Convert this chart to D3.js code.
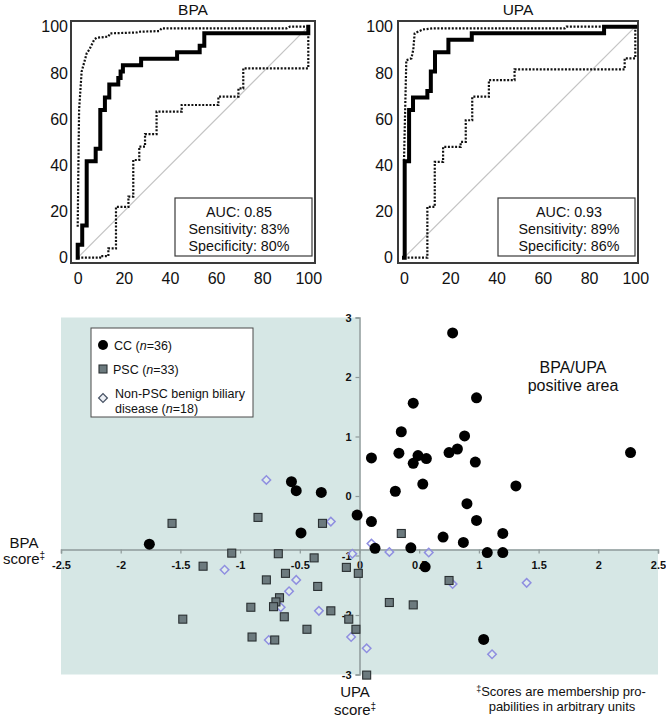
<!DOCTYPE html>
<html><head><meta charset="utf-8">
<script src="https://cdn.jsdelivr.net/npm/d3@7"></script>
<style>
body{margin:0;background:#fff;}
svg{display:block;font-family:"Liberation Sans",Arial,Helvetica,sans-serif;}
</style></head><body>
<svg id="chart" width="666" height="723"></svg>
<script>
// ---------- ROC data ----------
const rocTicks = [0, 20, 40, 60, 80, 100];
const rocTitles = ["BPA", "UPA"];
// main ROC curves (step points: fpr where rise happens, tpr after rise)
const bpaFpr = [0, 0, 1.96, 3.9, 7.8, 9.8, 11.8, 13.7, 17.6, 18.6, 19.6, 27.5, 43.1, 52.9, 54.9, 100];
const bpaTpr = [0, 5.6, 13.9, 41.7, 47.2, 63.9, 69.4, 75, 77.8, 80.6, 83.3, 86.1, 88.9, 91.7, 97.2, 100];
const bpaUpFpr = [0, 0.3, 0.6, 1.7, 3.9, 5.1, 7.2, 8.2, 13.3, 14, 25.6, 26.3, 35.4, 36.4, 90.6, 92, 100];
const bpaUpTpr = [13.4, 39.4, 63.9, 80.5, 88.5, 90.2, 94.5, 95.2, 95.7, 97.1, 97.5, 97.8, 98.1, 99.3, 99.3, 100, 100];
const bpaLoFpr = [0, 9.7, 13.3, 16.6, 22, 24.1, 26.7, 29.2, 34.2, 45.1, 61, 69.7, 71.8, 100];
const bpaLoTpr = [0, 0.7, 4, 22, 26.4, 42.3, 48.1, 53.5, 63.2, 66.1, 69.7, 73.3, 82, 98.5];
const upaFpr = [0, 0.3, 2.2, 3.9, 10.1, 11.6, 13.4, 19.2, 29.3, 86.5, 100];
const upaTpr = [0, 41.7, 63.9, 69.4, 72.2, 80.6, 88.9, 94.4, 97.2, 100, 100];
const upaUpFpr = [0, 0.5, 1, 3.2, 4, 4.6, 6, 8.2, 12.5, 69.5, 70.2, 100];
const upaUpTpr = [42, 64, 85.5, 86.3, 90, 97.1, 97.8, 98.8, 99.3, 99.3, 100, 100];
const upaLoFpr = [0, 10.1, 13.3, 16.9, 24.5, 26.7, 29.5, 36.7, 47.8, 95.4, 100];
const upaLoTpr = [0, 22, 41.5, 48, 50.1, 59.5, 69.7, 76.9, 81.5, 86.3, 100];
const bpaStats = ["AUC: 0.85", "Sensitivity: 83%", "Specificity: 80%"];
const upaStats = ["AUC: 0.93", "Sensitivity: 89%", "Specificity: 86%"];

// ---------- Scatter data (x = BPA score, y = UPA score) ----------
const xTicks = [-2.5, -2, -1.5, -1, -0.5, 0, 0.5, 1, 1.5, 2, 2.5];
const yTicks = [-3, -2, -1, 0, 1, 2, 3];
const ccBpa = [0.78,0.98,0.45,0.35,0.88,0.10,0.33,0.49,0.45,0.56,0.75,0.82,0.97,2.27,0.30,0.53,1.31,0.90,-0.02,0.10,0.98,1.20,0.70,0.87,0.13,0.43,1.07,1.20,0.55,1.04,-0.57,-0.53,-0.32,-0.49,-1.76];
const ccUpa = [2.74,1.65,1.56,1.08,1.01,0.64,0.72,0.68,0.55,0.63,0.73,0.79,0.57,0.73,0.08,0.20,0.17,-0.13,-0.32,-0.43,-0.41,-0.63,-0.69,-0.78,-0.88,-0.87,-0.95,-0.95,-1.19,-2.41,0.24,0.09,0.06,-0.62,-0.81];
const pscBpa = [-0.85,-0.31,-1.07,-0.68,-0.38,-1.31,-0.11,-0.62,-0.01,-0.78,0.35,-1.57,-0.35,-0.67,-0.70,-0.72,-0.91,-0.63,-0.24,-1.48,-0.09,-0.44,-0.03,-0.90,-0.71,0.06,0.75,0.25,0.45];
const pscUpa = [-0.36,-0.46,-0.96,-0.97,-1.04,-1.18,-1.20,-1.30,-1.30,-1.41,-0.63,-0.46,-1.52,-1.71,-1.78,-1.86,-1.87,-2.03,-1.93,-2.07,-2.07,-2.24,-2.24,-2.37,-2.42,-3.01,-1.42,-1.79,-1.83];
const nonBpa = [-0.78,-0.24,0.10,-0.06,-1.13,-0.53,0.25,0.58,-0.59,-0.66,-0.34,-0.76,-0.07,0.06,0.78,1.40,1.11];
const nonUpa = [0.27,-0.43,-0.80,-0.97,-1.24,-1.41,-0.94,-0.95,-1.60,-1.87,-1.93,-2.42,-2.37,-2.56,-1.48,-1.46,-2.66];
const xAxisCross = -0.9;

const svg = d3.select("#chart");
const zip = (a, b) => a.map((v, i) => [v, b[i]]);

// ---------- ROC panels ----------
const panels = [
  {title: rocTitles[0], xr: [77.7, 308.3], frame: [71, 315], pad: 3, center: 239,
   main: zip(bpaFpr, bpaTpr), up: zip(bpaUpFpr, bpaUpTpr), lo: zip(bpaLoFpr, bpaLoTpr), stats: bpaStats},
  {title: rocTitles[1], xr: [404, 635.3], frame: [398, 638], pad: 5, center: 569,
   main: zip(upaFpr, upaTpr), up: zip(upaUpFpr, upaUpTpr), lo: zip(upaLoFpr, upaLoTpr), stats: upaStats}
];
panels.forEach(p => {
  const x = d3.scaleLinear().domain([0, 100]).range(p.xr);
  const y = d3.scaleLinear().domain([0, 100]).range([257.7, 26.7]);
  const g = svg.append("g");
  g.append("rect").attr("x", p.frame[0]).attr("y", 21).attr("width", p.frame[1] - p.frame[0]).attr("height", 242)
    .attr("fill", "#fff").attr("stroke", "#3a3a3a").attr("stroke-width", 2);
  g.append("line").attr("x1", x(0)).attr("y1", y(0)).attr("x2", x(100)).attr("y2", y(100))
    .attr("stroke", "#c4c4c4").attr("stroke-width", 1.2);
  const step = d3.line().x(d => x(d[0])).y(d => y(d[1])).curve(d3.curveStepAfter);
  const lin = d3.line().x(d => x(d[0])).y(d => y(d[1]));
  g.append("path").attr("d", lin(p.up)).attr("fill", "none").attr("stroke", "#111")
    .attr("stroke-width", 2.2).attr("stroke-dasharray", "2,1.6");
  g.append("path").attr("d", step(p.lo)).attr("fill", "none").attr("stroke", "#111")
    .attr("stroke-width", 2.2).attr("stroke-dasharray", "2,1.6");
  g.append("path").attr("d", step(p.main)).attr("fill", "none").attr("stroke", "#000")
    .attr("stroke-width", 4).attr("stroke-linejoin", "miter").attr("stroke-linecap", "square");
  const ya = g.append("g").attr("transform", `translate(${p.frame[0]},0)`)
    .call(d3.axisLeft(y).tickValues(rocTicks).tickSize(0).tickPadding(p.pad));
  const xa = g.append("g").attr("transform", `translate(0,263)`)
    .call(d3.axisBottom(x).tickValues(rocTicks).tickSize(0).tickPadding(10));
  [ya, xa].forEach(a => {
    a.select(".domain").remove();
    a.selectAll("text").attr("font-size", 16).attr("fill", "#111")
      .attr("font-family", '"Liberation Sans",Arial,sans-serif');
  });
  g.append("text").attr("x", (p.frame[0] + p.frame[1]) / 2).attr("y", 15).attr("text-anchor", "middle")
    .attr("font-size", 15.5).attr("fill", "#111").text(p.title);
  const bx = p.frame[1] - 140, bw = 137;
  g.append("rect").attr("x", bx).attr("y", 198).attr("width", bw).attr("height", 58)
    .attr("fill", "#fff").attr("stroke", "#3a3a3a").attr("stroke-width", 1.2);
  p.stats.forEach((s, i) => {
    g.append("text").attr("x", p.center).attr("y", 217 + i * 17).attr("text-anchor", "middle")
      .attr("font-size", 14.3).attr("fill", "#111").text(s);
  });
});

// ---------- Scatter ----------
const sx = d3.scaleLinear().domain([-2.5, 2.5]).range([61, 658]);
const sy = d3.scaleLinear().domain([-3, 3]).range([674.5, 317.5]);
const bg = svg.append("g");
const shade = d3.path();
shade.moveTo(sx(-2.5), sy(3));
shade.lineTo(sx(0), sy(3));
shade.lineTo(sx(0), sy(xAxisCross));
shade.lineTo(sx(2.5), sy(xAxisCross));
shade.lineTo(sx(2.5), sy(-3));
shade.lineTo(sx(-2.5), sy(-3));
shade.closePath();
bg.append("path").attr("d", shade.toString()).attr("fill", "#d6e7e5");

const xAxisG = svg.append("g").attr("transform", `translate(0,${sy(xAxisCross)})`)
  .call(d3.axisBottom(sx).tickValues(xTicks).tickSize(4).tickPadding(8).tickFormat(d3.format("")));
const yAxisG = svg.append("g").attr("transform", `translate(${sx(0)},0)`)
  .call(d3.axisLeft(sy).tickValues(yTicks).tickSize(4).tickPadding(4).tickFormat(d3.format("d")));
[xAxisG, yAxisG].forEach(a => {
  a.select(".domain").attr("stroke", "#8e9a9a").attr("stroke-width", 1.5);
  a.selectAll(".tick line").attr("stroke", "#8e9a9a").attr("stroke-width", 1.2);
  a.selectAll("text").attr("font-size", 11).attr("font-weight", "bold").attr("fill", "#111")
    .attr("font-family", '"Liberation Sans",Arial,sans-serif');
});
xAxisG.selectAll("text").text(d => String(d));
yAxisG.selectAll("text").text(d => String(d));

const diamond = d3.symbol().type(d3.symbolSquare).size(36);
svg.append("g").selectAll("path").data(zip(nonBpa, nonUpa)).join("path")
  .attr("d", diamond)
  .attr("transform", d => `translate(${sx(d[0])},${sy(d[1])}) rotate(45)`)
  .attr("fill", "rgba(255,255,255,0.25)").attr("stroke", "#8f8fe0").attr("stroke-width", 1.5);
svg.append("g").selectAll("rect").data(zip(pscBpa, pscUpa)).join("rect")
  .attr("x", d => sx(d[0]) - 4).attr("y", d => sy(d[1]) - 4).attr("width", 8).attr("height", 8)
  .attr("fill", "#6c7a7e").attr("stroke", "#2a3032").attr("stroke-width", 1.1);
svg.append("g").selectAll("circle").data(zip(ccBpa, ccUpa)).join("circle")
  .attr("cx", d => sx(d[0])).attr("cy", d => sy(d[1])).attr("r", 5.5).attr("fill", "#000");

const lg = svg.append("g");
lg.append("rect").attr("x", 91).attr("y", 328).attr("width", 162).attr("height", 89)
  .attr("fill", "#fff").attr("stroke", "#4a4a4a").attr("stroke-width", 1);
lg.append("circle").attr("cx", 103).attr("cy", 345).attr("r", 5).attr("fill", "#000");
lg.append("rect").attr("x", 99).attr("y", 365).attr("width", 8).attr("height", 8)
  .attr("fill", "#6c7a7e").attr("stroke", "#2a3032").attr("stroke-width", 1.1);
lg.append("path").attr("d", d3.symbol().type(d3.symbolSquare).size(38)())
  .attr("transform", "translate(103,398) rotate(45)")
  .attr("fill", "#eef1f6").attr("stroke", "#4a5566").attr("stroke-width", 1.3);
function legendText(x, y, pre, num) {
  const t = lg.append("text").attr("x", x).attr("y", y).attr("font-size", 12.5).attr("fill", "#111");
  t.append("tspan").text(pre);
  t.append("tspan").attr("font-style", "italic").text("n");
  t.append("tspan").text("=" + num + ")");
}
legendText(114, 349.5, "CC (", 36);
legendText(113, 373.5, "PSC (", 33);
lg.append("text").attr("x", 115).attr("y", 397.5).attr("font-size", 12.5).attr("fill", "#111").text("Non-PSC benign biliary");
legendText(115, 412.5, "disease (", 18);

const ann = svg.append("g").attr("fill", "#111");
ann.append("text").attr("x", 573).attr("y", 372.5).attr("text-anchor", "middle").attr("font-size", 16).text("BPA/UPA");
ann.append("text").attr("x", 573).attr("y", 391).attr("text-anchor", "middle").attr("font-size", 16).text("positive area");
function scoreLabel(x, y1, y2, name) {
  ann.append("text").attr("x", x).attr("y", y1).attr("text-anchor", "middle").attr("font-size", 15).text(name);
  const t = ann.append("text").attr("x", x).attr("y", y2).attr("text-anchor", "middle").attr("font-size", 15);
  t.append("tspan").text("score");
  t.append("tspan").attr("font-size", 10).attr("dy", -5).text("\u2021");
}
scoreLabel(24, 548, 564, "BPA");
scoreLabel(355, 697, 715, "UPA");
const fn1 = ann.append("text").attr("x", 561).attr("y", 696).attr("text-anchor", "middle").attr("font-size", 13);
fn1.append("tspan").attr("font-size", 9).attr("dy", -4).text("\u2021");
fn1.append("tspan").attr("dy", 4).text("Scores are membership pro-");
ann.append("text").attr("x", 562).attr("y", 711).attr("text-anchor", "middle").attr("font-size", 13)
  .text("pabilities in arbitrary units");
</script>
</body></html>
